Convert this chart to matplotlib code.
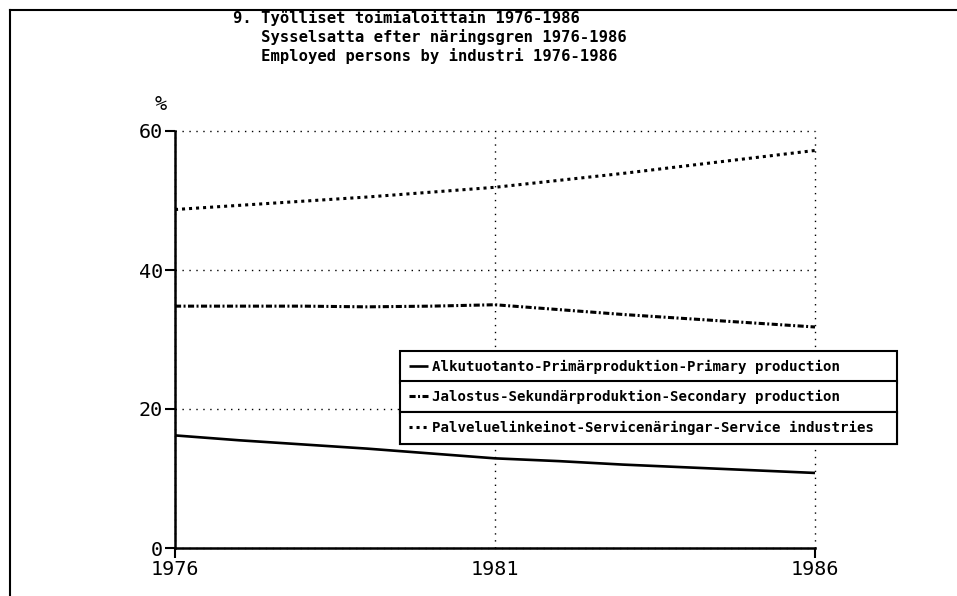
import matplotlib
matplotlib.use("Agg")
import matplotlib.pyplot as plt
from matplotlib.lines import Line2D

years = [1976, 1977, 1978, 1979, 1980, 1981, 1982, 1983, 1984, 1985, 1986]
primary = [16.2, 15.5, 14.9, 14.3, 13.6, 12.9, 12.5, 12.0, 11.6, 11.2, 10.8]
secondary = [34.8, 34.8, 34.8, 34.7, 34.8, 35.0, 34.3, 33.6, 33.0, 32.4, 31.8]
service = [48.7, 49.3, 49.9, 50.5, 51.2, 51.9, 52.9, 53.9, 55.0, 56.1, 57.2]

labels = [
    "Alkutuotanto-Primärproduktion-Primary production",
    "Jalostus-Sekundärproduktion-Secondary production",
    "Palveluelinkeinot-Servicenäringar-Service industries",
]
title_lines = [
    "9. Työlliset toimialoittain 1976-1986",
    "   Sysselsatta efter näringsgren 1976-1986",
    "   Employed persons by industri 1976-1986",
]
xticks = [1976, 1981, 1986]
yticks = [0, 20, 40, 60]

MONO = ["DejaVu Sans Mono", "DejaVu Sans"]
plt.rcParams["font.family"] = MONO

W, H = 957, 596
fig = plt.figure(figsize=(W / 100, H / 100), dpi=100)
ax = fig.add_axes([175 / W, 1 - 548 / H, 640 / W, 417 / H])

l1, = ax.plot(years, primary, color="black", lw=1.9, solid_capstyle="butt", zorder=3)
l2, = ax.plot(years, secondary, color="black", lw=2.2,
              linestyle=(0, (2.0, 0.8, 0.65, 0.8)), dash_capstyle="butt", zorder=3)
l3, = ax.plot(years, service, color="black", lw=2.2,
              linestyle=(0, (1.0, 1.3)), dash_capstyle="butt", zorder=3)

ax.set_xlim(1976, 1986)
ax.set_ylim(0, 60)
ax.set_xticks(xticks)
ax.set_yticks(yticks)
ax.tick_params(axis="both", direction="out", length=7, width=1.5, labelsize=14.5, pad=1.5)
ax.xaxis.get_major_ticks()[1].tick1line.set_visible(False)
for s in ["top", "right"]:
    ax.spines[s].set_visible(False)
for s in ["left", "bottom"]:
    ax.spines[s].set_linewidth(1.8)
ax.grid(True, color="black", lw=1.0, linestyle=(0, (1, 4)))
ax.set_axisbelow(True)
for gl in ax.get_xgridlines() + ax.get_ygridlines():
    gl.set_clip_on(False)

ax.text(-0.023, 1.063, "%", ha="center", va="center", fontsize=14.5,
        transform=ax.transAxes)

# title
for i, t in enumerate(title_lines):
    fig.text(233 / W, 1 - (18 + 18.8 * i) / H, t, ha="left", va="center",
             fontsize=11.2, fontweight="bold")

# legend rows
x0 = (400 - 175) / 640
wl = 497 / 640
tops = [(548 - 351) / 417, (548 - 381) / 417, (548 - 412) / 417]
for h, lab, top in zip([l1, l2, l3], labels, tops):
    lg = ax.legend([h], [lab], loc="upper left", bbox_to_anchor=(x0, top - 0.001, wl, 0.001),
                   mode="expand", borderaxespad=0, frameon=True, fancybox=False,
                   edgecolor="black", framealpha=1, handlelength=1.35, handletextpad=0.3,
                   borderpad=0.62, prop={"family": MONO, "weight": "bold", "size": 10.2})
    lg.get_frame().set_linewidth(1.5)
    lg.set_zorder(5)
    ax.add_artist(lg)

# figure border lines
fig.add_artist(Line2D([10 / W, 1.0], [1 - 10 / H, 1 - 10 / H], color="black", lw=1.5))
fig.add_artist(Line2D([10 / W, 10 / W], [0, 1 - 10 / H], color="black", lw=1.5))

fig.savefig("out.png", dpi=100)
